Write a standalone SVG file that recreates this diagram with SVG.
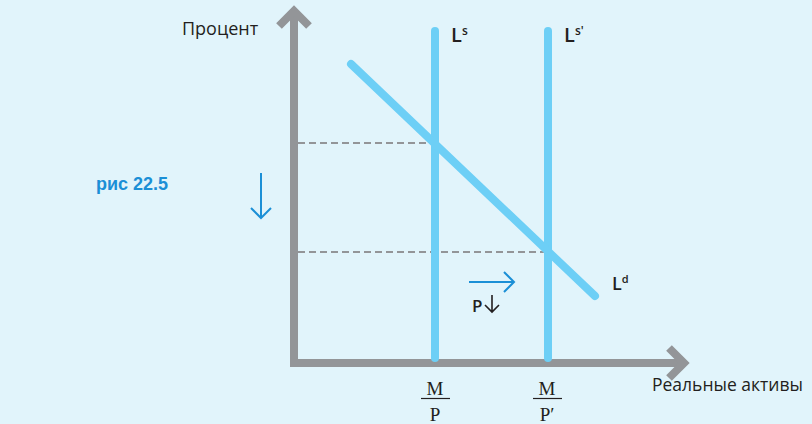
<svg xmlns="http://www.w3.org/2000/svg" width="812" height="424" viewBox="0 0 812 424">
<style>
.axis{stroke:#939598;stroke-width:8;fill:none}
.ah{stroke:#939598;stroke-width:8;fill:none;stroke-linecap:butt;stroke-linejoin:miter}
.curve{stroke:#6dcff6;stroke-width:8;fill:none;stroke-linecap:round}
.dash{stroke:#939598;stroke-width:2;stroke-dasharray:7 4;fill:none}
.barr{stroke:#1b8fd6;stroke-width:2;fill:none}
.t{font-family:"Open Sans","Liberation Sans",sans-serif;fill:#231f20}
.b{font-weight:600}
.s{font-family:"Liberation Serif",serif;fill:#231f20;font-size:19px}
</style>
<rect width="812" height="424" fill="#e1f4fb"/>
<g id="axes">
<path class="axis" d="M294 13 V363 H681"/>
<path class="ah" d="M279 26 L294 11 L309 26"/>
<path class="ah" d="M669 348 L684 363 L669 378"/>
</g>
<g id="connectors">
<line class="dash" x1="298" y1="143" x2="435" y2="143"/>
<line class="dash" x1="298" y1="252" x2="548" y2="252"/>
</g>
<g id="Ls"><line class="curve" x1="435" y1="31" x2="435" y2="358"/></g>
<g id="Ls2"><line class="curve" x1="548" y1="31" x2="548" y2="358"/></g>
<g id="Ld"><line class="curve" x1="351" y1="64" x2="595" y2="296"/></g>
<g id="labels">
<text class="t" x="182" y="35" font-size="18">Процент</text>
<text class="t b" x="451" y="42" font-size="20">L<tspan font-size="12" dy="-7">s</tspan></text>
<text class="t b" x="564" y="42" font-size="20">L<tspan font-size="12" dy="-7">s'</tspan></text>
<text class="t b" x="612" y="290" font-size="18">L<tspan font-size="11" dy="-7">d</tspan></text>
<text class="t" x="652" y="391" font-size="17.5">Реальные активы</text>
<text class="t b" x="472" y="312" font-size="17">P</text>
<path d="M485 305 L492 312 L499 305 M492 312 V295" stroke="#231f20" stroke-width="1.6" fill="none"/>
<text class="s" x="435" y="395" text-anchor="middle">M</text>
<line x1="421" y1="398.5" x2="450" y2="398.5" stroke="#231f20" stroke-width="1.2"/>
<text class="s" x="435" y="421" text-anchor="middle">P</text>
<text class="s" x="547" y="395" text-anchor="middle">M</text>
<line x1="533" y1="398.5" x2="562" y2="398.5" stroke="#231f20" stroke-width="1.2"/>
<text class="s" x="547" y="421" text-anchor="middle">P′</text>
<text x="96" y="190" font-family="Liberation Sans, sans-serif" font-weight="bold" font-size="18" fill="#1b8fd6">рис 22.5</text>
</g>
<g id="blue-arrows">
<path class="barr" d="M261 173 V218 M251 208 L261 218 L271 208"/>
<path class="barr" d="M469 282 H514 M504 272 L514 282 L504 292"/>
</g>
</svg>
